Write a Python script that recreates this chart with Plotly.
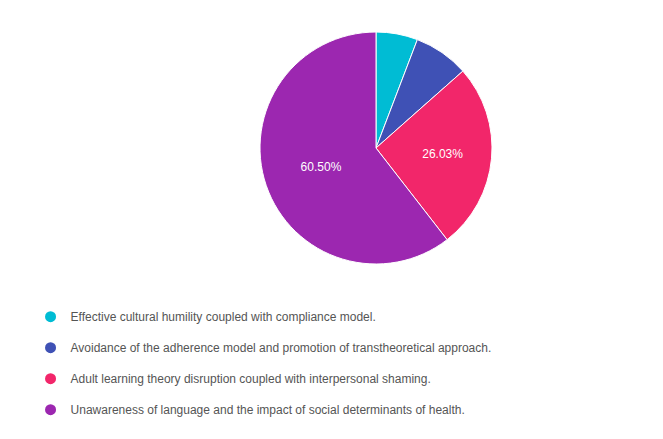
import plotly.graph_objects as go

labels = [
    "Effective cultural humility coupled with compliance model.",
    "Avoidance of the adherence model and promotion of transtheoretical approach.",
    "Adult learning theory disruption coupled with interpersonal shaming.",
    "Unawareness of language and the impact of social determinants of health.",
]
values = [5.80, 7.67, 26.03, 60.50]
colors = ["#00bcd4", "#3f51b5", "#f2266a", "#9c27b0"]

fig = go.Figure()
fig.add_trace(go.Pie(
    labels=labels, values=values, sort=False, direction="clockwise", rotation=0,
    marker=dict(colors=colors, line=dict(color="white", width=1)),
    texttemplate=["", "", "%{percent:.2%}", "%{percent:.2%}"],
    textposition="inside", insidetextorientation="horizontal",
    textfont=dict(color="white", size=12, family="Arial, Liberation Sans"),
    showlegend=False, hoverinfo="label+percent",
    domain=dict(x=[252/663, 484/663], y=[1-256/439, 1-24/439]),
))
for i, (lab, col) in enumerate(zip(labels, colors)):
    fig.add_trace(go.Scatter(
        x=[None], y=[None], mode="markers", name=lab, legendgroup=str(i),
        marker=dict(color=col, size=11, symbol="circle"),
    ))

fig.update_layout(
    width=663, height=439, margin=dict(l=0, r=0, t=0, b=0),
    paper_bgcolor="white", plot_bgcolor="white",
    xaxis=dict(visible=False), yaxis=dict(visible=False),
    font=dict(family="Arial, Liberation Sans", size=12, color="#555555"),
    legend=dict(x=0.034, y=0.33, xanchor="left", yanchor="top",
                tracegroupgap=12, font=dict(size=12, color="#555555")),
)
fig.write_html("out.html")
